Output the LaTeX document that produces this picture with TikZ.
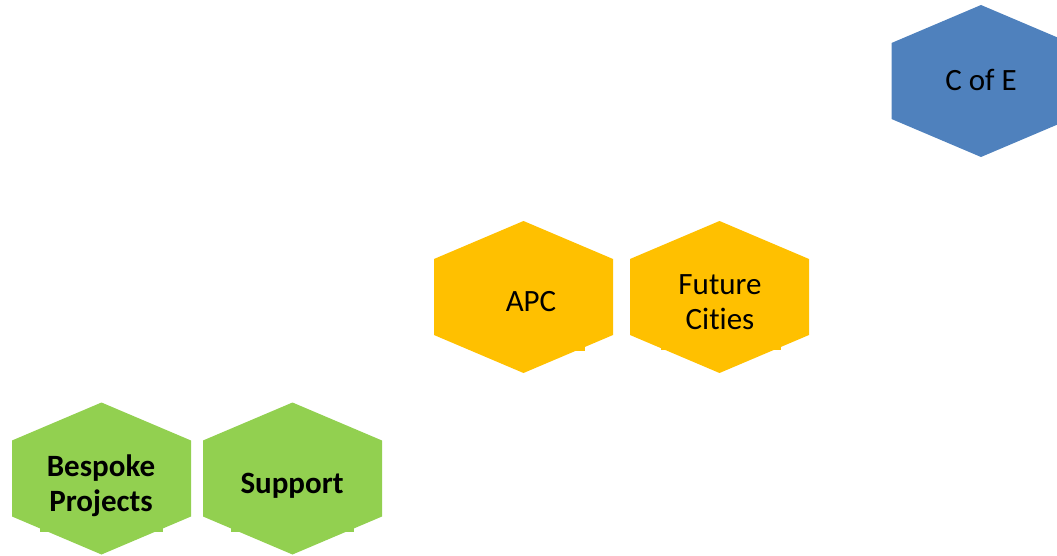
\documentclass[tikz,border=0pt]{standalone}
\usepackage{fontspec}
\setmainfont[Ligatures=NoCommon]{Carlito}
\definecolor{hexblue}{HTML}{4F81BD}
\definecolor{hexyellow}{HTML}{FFC000}
\definecolor{hexgreen}{HTML}{92D050}
\tikzset{
  hexlabel/.style={align=center,font=\fontsize{31}{35}\selectfont,text=black,inner sep=0pt},
  hexbold/.style={hexlabel,font=\fontsize{31}{35}\selectfont\bfseries}
}
\newcommand{\hexshape}[3]{%
  \fill[#3] (#1,#2) ++(0,-76) -- ++(89.5,38) -- ++(0,76) -- ++(-89.5,38) -- ++(-89.5,-38) -- ++(0,-76) -- cycle;}
\begin{document}
\begin{tikzpicture}[x=1pt,y=-1pt]
\useasboundingbox (0,0) rectangle (1057,556);
\begin{scope}
\clip (0,0) rectangle (1057,556);
\hexshape{981}{81}{hexblue}
\end{scope}
\hexshape{523.5}{297}{hexyellow}
\hexshape{719.5}{297}{hexyellow}
\hexshape{101.5}{478.5}{hexgreen}
\hexshape{292.5}{478.5}{hexgreen}
% small tabs of the text boxes showing below the lower edges
\fill[hexyellow] (477,330) rectangle (585,351);
\fill[hexyellow] (661,330) rectangle (781,350);
\fill[hexgreen] (40,510) rectangle (163,532);
\fill[hexgreen] (231,510) rectangle (354,532);
\node[hexlabel] (cofe) at (981,80) {C of E};
\node[hexlabel] (apc) at (531,302) {APC};
\node[hexlabel] (future) at (720,302) {Future\\Cities};
\node[hexbold] (bespoke) at (101,486) {Bespoke\\Projects};
\node[hexbold] (support) at (292,486) {Support};
\end{tikzpicture}
\end{document}
